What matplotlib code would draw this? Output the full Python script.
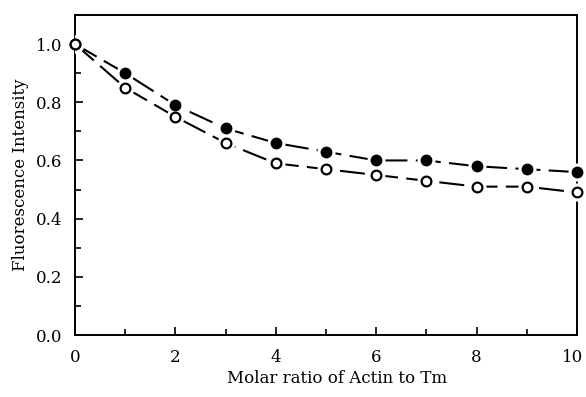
import matplotlib
matplotlib.use("Agg")
import matplotlib.pyplot as plt
import matplotlib.transforms as mtransforms
from matplotlib.ticker import MultipleLocator

ratio = [0, 1, 2, 3, 4, 5, 6, 7, 8, 9, 10]
filled_vals = [1.00, 0.90, 0.79, 0.71, 0.66, 0.63, 0.60, 0.60, 0.58, 0.57, 0.56]
open_vals = [1.00, 0.85, 0.75, 0.66, 0.59, 0.57, 0.55, 0.53, 0.51, 0.51, 0.49]
xticks = [0, 2, 4, 6, 8, 10]
yticks = [0.0, 0.2, 0.4, 0.6, 0.8, 1.0]

plt.rcParams['font.family'] = ['DejaVu Serif']

fig = plt.figure(figsize=(5.86, 3.97), dpi=100)
ax = fig.add_axes([75/586, 1 - 335/397, (577-75)/586, (335-15)/397])

for vals in (filled_vals, open_vals):
    ax.plot(ratio, vals, color='black', lw=1.5, dashes=(12, 4), zorder=2)
    ax.plot(ratio, vals, linestyle='none', marker='o', ms=12, mfc='white',
            mec='white', zorder=3)
ax.plot(ratio, filled_vals, linestyle='none', marker='o', ms=7.5, mfc='black',
        mec='black', zorder=4, clip_on=False)
ax.plot(ratio, open_vals, linestyle='none', marker='o', ms=7, mfc='white',
        mec='black', mew=1.6, zorder=4, clip_on=False)

ax.set_xlim(0, 10)
ax.set_ylim(0, 1.1)
ax.set_xticks(xticks)
ax.set_yticks(yticks)
ax.set_yticklabels([f"{v:.1f}" for v in yticks])
ax.xaxis.set_minor_locator(MultipleLocator(1))
ax.yaxis.set_minor_locator(MultipleLocator(0.1))
ax.tick_params(which='both', direction='in', labelsize=12, width=1.2)
ax.tick_params(which='major', length=6)
ax.tick_params(which='minor', length=4)
ax.tick_params(axis='x', pad=10)
ax.tick_params(axis='y', pad=9)
for s in ax.spines.values():
    s.set_linewidth(1.4)

# keep the last x tick label inside the figure
last = ax.get_xticklabels()[-1]
last.set_transform(last.get_transform() +
                   mtransforms.ScaledTranslation(-4/100, 0, fig.dpi_scale_trans))

ax.set_xlabel('Molar ratio of Actin to Tm', fontsize=12)
ax.xaxis.set_label_coords(0.523, -0.11)
ax.set_ylabel('Fluorescence Intensity', fontsize=12, labelpad=5)

fig.savefig('out.png', dpi=100)
